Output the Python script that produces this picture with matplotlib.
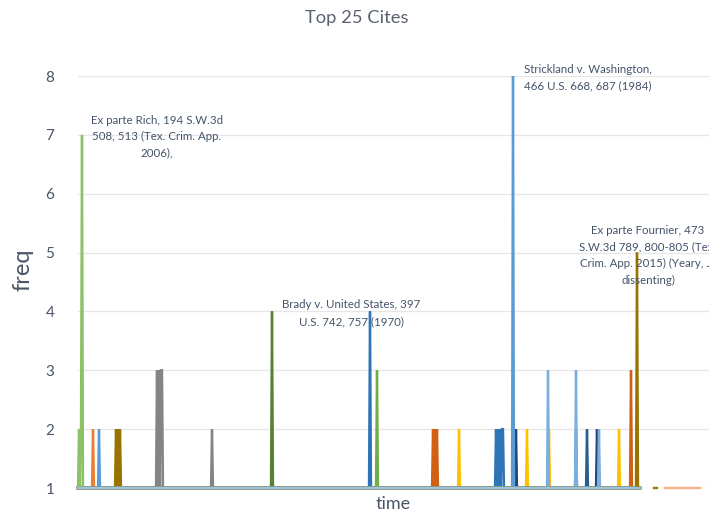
import numpy as np
import matplotlib
matplotlib.use("Agg")
import matplotlib.pyplot as plt

plt.rcParams['font.family'] = ['Lato', 'DejaVu Sans']

# ---- data (time index, frequency) ----
n_time = 632
base_start = 0
base_end = 562

series_names = [
    "S1", "S2", "S3", "S4", "S5", "S6", "S7", "S8", "S9",
    "S10", "S11", "S12", "S13", "S14", "S15", "S16", "Strickland", "Rich",
    "Fournier", "S20",
]
series_colors = [
    "#ED7D31", "#FFC000", "#2E75B6", "#997300",
    "#848484", "#548235", "#D26012", "#264478", "#255E91", "#7CAFDD",
    "#70AD47", "#A5A5A5", "#4472C4", "#F4B183", "#9C7A00", "#FFCD33",
    "#5B9BD5", "#8CC168", "#997300", "#9DC3E6",
]
# (t_start, t_end, freq) for every stretch where freq > 1
series_spikes = [
    [(15, 15, 2)],
    [(381, 381, 2), (449, 449, 2), (471, 471, 2), (541, 541, 2)],
    [(292, 292, 4), (418, 425, 2), (498, 498, 2)],
    [(38, 42, 2)],
    [(79, 84, 3), (134, 134, 2)],
    [(194, 194, 4)],
    [(355, 359, 2), (553, 553, 3)],
    [(438, 438, 2), (519, 519, 2)],
    [(509, 509, 2)],
    [(470, 470, 3), (498, 498, 3), (521, 521, 2)],
    [(299, 299, 3)],
    [],
    [],
    [],
    [],
    [],
    [(21, 21, 2), (435, 435, 8)],
    [(1, 3, 2), (4, 4, 7)],
    [(559, 559, 5)],
    [],
]
series_ranges = [
    (base_start, base_end), (base_start, base_end), (base_start, base_end),
    (base_start, base_end), (base_start, base_end), (base_start, base_end),
    (base_start, base_end), (base_start, base_end), (base_start, base_end),
    (base_start, base_end), (base_start, base_end), (base_start, base_end),
    (base_start, base_end), (587, 622), (576, 579), (base_start, base_end),
    (base_start, base_end), (base_start, base_end), (base_start, base_end),
    (base_start, base_end),
]

labels_text = [
    "Ex parte Rich, 194 S.W.3d\n508, 513 (Tex. Crim. App.\n2006),",
    "Brady v. United States, 397\nU.S. 742, 757 (1970)",
    "Strickland v. Washington,\n466 U.S. 668, 687 (1984)",
    "Ex parte Fournier, 473\nS.W.3d 789, 800-805 (Tex.\nCrim. App. 2015) (Yeary, J.,\ndissenting)",
]
labels_t = [79, 273, 510, 570]
labels_freq = [6.97, 3.97, 7.97, 4.95]

yticks = [1, 2, 3, 4, 5, 6, 7, 8]

# ---- figure ----
fig = plt.figure(figsize=(7.09, 5.12), dpi=100)
ax = fig.add_axes([78 / 709, 24 / 512, 631 / 709, 412 / 512])

t = np.arange(n_time)
for color, spikes, (s0, s1) in zip(series_colors, series_spikes, series_ranges):
    y = np.full(n_time, np.nan)
    y[s0:s1 + 1] = 1.0
    for a, b, v in spikes:
        if b > a:
            # solid block: dense up/down strokes across the stretch
            y[a:b + 1:2] = v
            y[b] = v
        else:
            y[a] = v
    ax.plot(t, y, color=color, lw=1.7, solid_joinstyle='miter',
            clip_on=False, zorder=3)

ax.set_xlim(0, 631)
ax.set_ylim(1, 8)
ax.set_yticks(yticks)
ax.set_xticks([])
ax.grid(axis='y', color='#E6E6E6', lw=0.9)
ax.set_axisbelow(True)
for s in ax.spines.values():
    s.set_visible(False)
ax.tick_params(axis='y', length=0, pad=17, labelsize=11, labelcolor='#4a5568')

ax.set_ylabel("freq", fontsize=17, color='#4a5568')
ax.yaxis.set_label_coords(-45 / 631, 0.53)
ax.set_xlabel("time", fontsize=13, color='#4a5568', labelpad=6)

fig.text(357 / 709, 1 - 18 / 512, "Top 25 Cites", ha='center', va='center',
         fontsize=13.2, color='#5a6270')

for txt, tx, ty in zip(labels_text, labels_t, labels_freq):
    ax.text(tx, ty, txt, ha='center', va='center', fontsize=8.3,
            color='#44546A', linespacing=1.6, zorder=5, clip_on=False)

fig.savefig("out.png", dpi=100)
